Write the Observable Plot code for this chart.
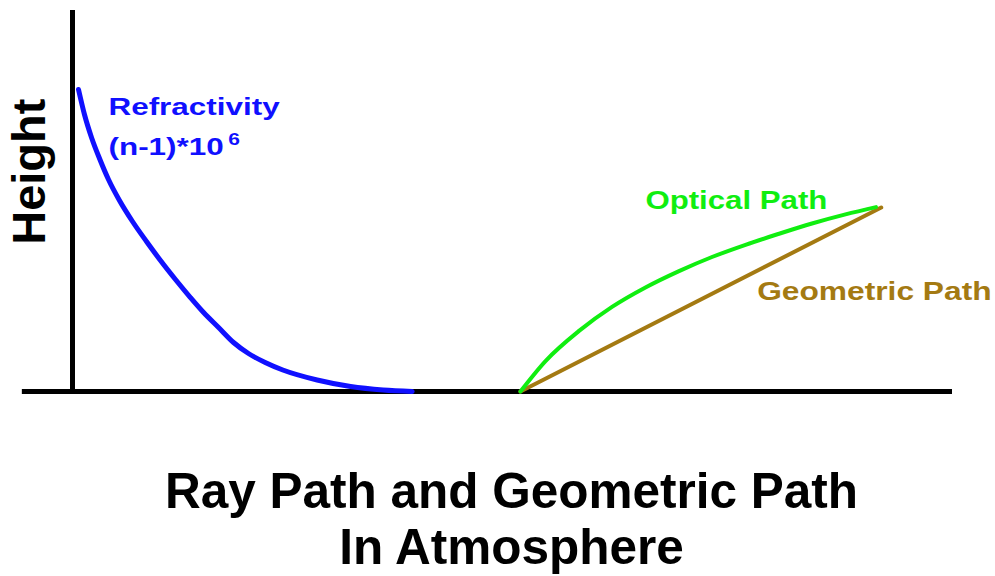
<!DOCTYPE html>
<html>
<head>
<meta charset="utf-8">
<script src="https://cdn.jsdelivr.net/npm/d3@7"></script>
<script src="https://cdn.jsdelivr.net/npm/@observablehq/plot@0.6"></script>
<style>
  html, body { margin: 0; padding: 0; background: #fff; }
  #chart { width: 995px; height: 440px; }
  #title {
    font-family: "Liberation Sans", Arial, sans-serif;
    font-weight: bold;
    font-size: 49.5px;
    line-height: 56px;
    text-align: center;
    padding-left: 28px;
    padding-top: 23px;
    color: #000;
  }
</style>
</head>
<body>
<div id="chart"></div>
<div id="title">Ray Path and Geometric Path<br>In Atmosphere</div>
<script>
// Refractivity profile (horizontal distance, height)
const refractX = [0.68, 1.36, 2.16, 3.07, 4.09, 5.34, 6.82, 8.41, 10.0, 11.7, 13.4, 14.9, 16.6, 18.3, 20.0, 21.9, 23.9, 27.8, 31.6, 35.3, 38.6];
const refractY = [79.27, 72.7, 66.67, 61.15, 55.64, 50.13, 44.62, 39.37, 34.38, 29.4, 24.67, 20.73, 16.8, 12.86, 9.97, 7.61, 5.64, 3.02, 1.31, 0.39, 0];
// Optical (refracted) ray path
const opticalX = [50.9, 53.75, 57.56, 61.31, 65.11, 68.92, 72.67, 76.48, 80.28, 84.03, 87.84, 91.31];
const opticalY = [0, 8.0, 15.9, 22.2, 27.3, 31.6, 35.3, 38.5, 41.4, 44.1, 46.5, 48.4];
// Geometric (straight) path
const geomX = [50.9, 91.9];
const geomY = [0, 48.3];
// Labels
const labelHeight = "Height";
const labelRefr1 = "Refractivity";
const labelRefr2 = "(n-1)*10";
const labelRefrExp = "6";
const labelOptical = "Optical Path";
const labelGeom = "Geometric Path";

const refract = refractX.map((x, i) => ({x, y: refractY[i]}));
const optical = opticalX.map((x, i) => ({x, y: opticalY[i]}));
const geom = geomX.map((x, i) => ({x, y: geomY[i]}));

const BLUE = "#1010ff", GREEN = "#10ee10", BROWN = "#a47a12";
const FONT = "'Liberation Sans', Arial, sans-serif";

const plot = Plot.plot({
  width: 995,
  height: 440,
  marginLeft: 72,
  marginRight: 43,
  marginTop: 10,
  marginBottom: 49,
  x: {domain: [0, 100], axis: null},
  y: {domain: [0, 100], axis: null},
  style: {background: "#fff", fontFamily: FONT, overflow: "visible"},
  marks: [
    Plot.ruleX([0], {y1: 0, y2: 100, stroke: "#000", strokeWidth: 5}),
    Plot.ruleY([0], {x1: -5.7, x2: 100, stroke: "#000", strokeWidth: 5}),
    Plot.line(refract, {x: "x", y: "y", stroke: BLUE, strokeWidth: 5, curve: "monotone-x"}),
    Plot.line(geom, {x: "x", y: "y", stroke: BROWN, strokeWidth: 4}),
    Plot.line(optical, {x: "x", y: "y", stroke: GREEN, strokeWidth: 4, curve: "monotone-x"}),
    Plot.text([labelHeight], {x: -3.07, y: 57.7, text: d => d, rotate: -90, textAnchor: "middle", lineAnchor: "bottom",
      fontSize: 47, fontWeight: "bold", fill: "#000"}),
    Plot.text([labelRefr1], {x: 4.09, y: 72.7, text: d => d, textAnchor: "start", lineAnchor: "bottom",
      fontSize: 24, fontWeight: "bold", fill: BLUE}),
    Plot.text([labelRefr2], {x: 4.09, y: 62.0, text: d => d, textAnchor: "start", lineAnchor: "bottom",
      fontSize: 24, fontWeight: "bold", fill: BLUE}),
    Plot.text([labelRefrExp], {x: 17.7, y: 64.8, text: d => d, textAnchor: "start", lineAnchor: "bottom",
      fontSize: 16, fontWeight: "bold", fill: BLUE}),
    Plot.text([labelOptical], {x: 65.1, y: 47.8, text: d => d, textAnchor: "start", lineAnchor: "bottom",
      fontSize: 26, fontWeight: "bold", fill: GREEN}),
    Plot.text([labelGeom], {x: 77.8, y: 24.1, text: d => d, textAnchor: "start", lineAnchor: "bottom",
      fontSize: 26, fontWeight: "bold", fill: BROWN})
  ]
});

// widen the label lettering as in the reference
const stretchBy = new Map([[labelRefr1, 1.31], [labelRefr2, 1.31], [labelRefrExp, 1.31], [labelOptical, 1.2], [labelGeom, 1.22]]);
plot.querySelectorAll("text").forEach(t => {
  const sx = stretchBy.get(t.textContent);
  if (!sx) return;
  const tr = t.getAttribute("transform") || "";
  t.setAttribute("transform", (tr + ` scale(${sx},1)`).trim());
});

document.getElementById("chart").appendChild(plot);
</script>
</body>
</html>
